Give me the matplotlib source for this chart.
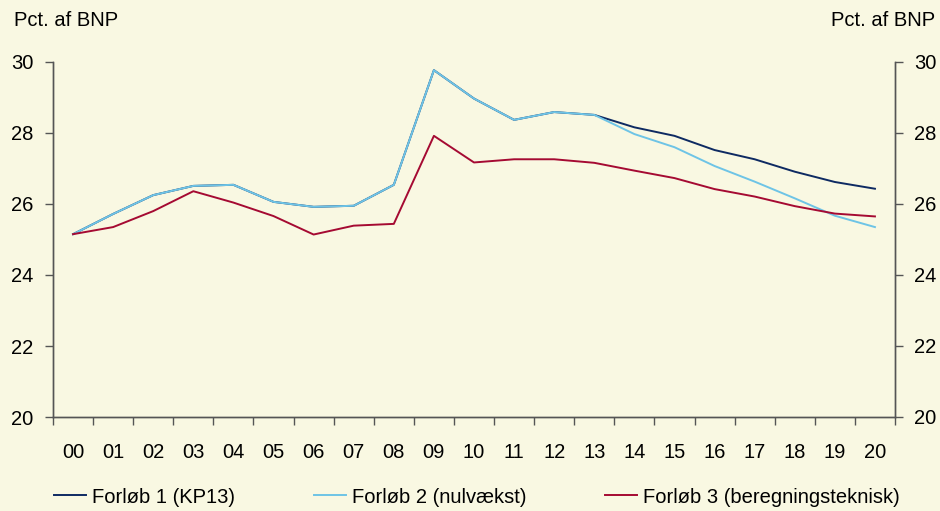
import matplotlib
matplotlib.use("Agg")
import matplotlib.pyplot as plt
import numpy as np

plt.rcParams["font.family"] = ["Liberation Sans", "DejaVu Sans"]
plt.rcParams["font.size"] = 14.5

# Data (pct. of GDP)
years = ["00", "01", "02", "03", "04", "05", "06", "07", "08", "09", "10",
         "11", "12", "13", "14", "15", "16", "17", "18", "19", "20"]
forloeb1 = [25.15, 25.72, 26.25, 26.51, 26.54, 26.06, 25.92, 25.95, 26.54, 29.77, 28.97,
            28.37, 28.59, 28.51, 28.16, 27.92, 27.52, 27.26, 26.91, 26.62, 26.43]
forloeb2 = [25.15, 25.72, 26.25, 26.51, 26.54, 26.06, 25.92, 25.95, 26.54, 29.77, 28.97,
            28.37, 28.59, 28.51, 27.97, 27.60, 27.07, 26.63, 26.16, 25.67, 25.35]
forloeb3 = [25.15, 25.35, 25.80, 26.36, 26.04, 25.66, 25.14, 25.39, 25.44, 27.92, 27.17,
            27.26, 27.26, 27.16, 26.94, 26.73, 26.42, 26.21, 25.94, 25.73, 25.65]
labels = ["Forløb 1 (KP13)", "Forløb 2 (nulvækst)", "Forløb 3 (beregningsteknisk)"]

bg = "#F9F8E2"
spine_col = "#555555"

fig = plt.figure(figsize=(9.4, 5.11), dpi=100, facecolor=bg)
ax = fig.add_axes([53 / 940, 1 - 417 / 511, 842 / 940, 355 / 511])
ax.set_facecolor(bg)

x = np.arange(len(years))
ax.plot(x, forloeb1, color="#0E2A62", lw=1.4, label=labels[0])
ax.plot(x, forloeb2, color="#6EC4E6", lw=1.4, label=labels[1])
ax.plot(x, forloeb3, color="#A50A32", lw=1.4, label=labels[2])

ax.set_xlim(-0.5, len(years) - 0.5)
ax.set_ylim(20, 30)
ax.set_yticks([20, 22, 24, 26, 28, 30])

# category labels between boundary tick marks
ax.set_xticks(x)
ax.set_xticklabels(years)
ax.set_xticks(np.arange(-0.5, len(years), 1), minor=True)
ax.tick_params(axis="x", which="major", length=0, pad=19)
ax.tick_params(axis="x", which="minor", length=6, width=1, color=spine_col)
ax.tick_params(axis="y", length=6, width=1, color=spine_col, pad=8)

ax2 = ax.twinx()
ax2.set_ylim(20, 30)
ax2.set_yticks([20, 22, 24, 26, 28, 30])
ax2.tick_params(axis="y", length=6, width=1, color=spine_col, pad=8)

for a in (ax, ax2):
    a.spines["top"].set_visible(False)
    for s in ("left", "right", "bottom"):
        a.spines[s].set_color(spine_col)
        a.spines[s].set_linewidth(1)

fig.text(14 / 940, 1 - 21 / 511, "Pct. af BNP", ha="left", va="center")
fig.text(935 / 940, 1 - 21 / 511, "Pct. af BNP", ha="right", va="center")

fig.legend(loc="center left", bbox_to_anchor=(54 / 940, 1 - 497 / 511), ncol=3,
           frameon=False, handlelength=1.6, handletextpad=0.3, columnspacing=3.9,
           borderaxespad=0, borderpad=0)

fig.savefig("out.png", dpi=100, facecolor=bg)
